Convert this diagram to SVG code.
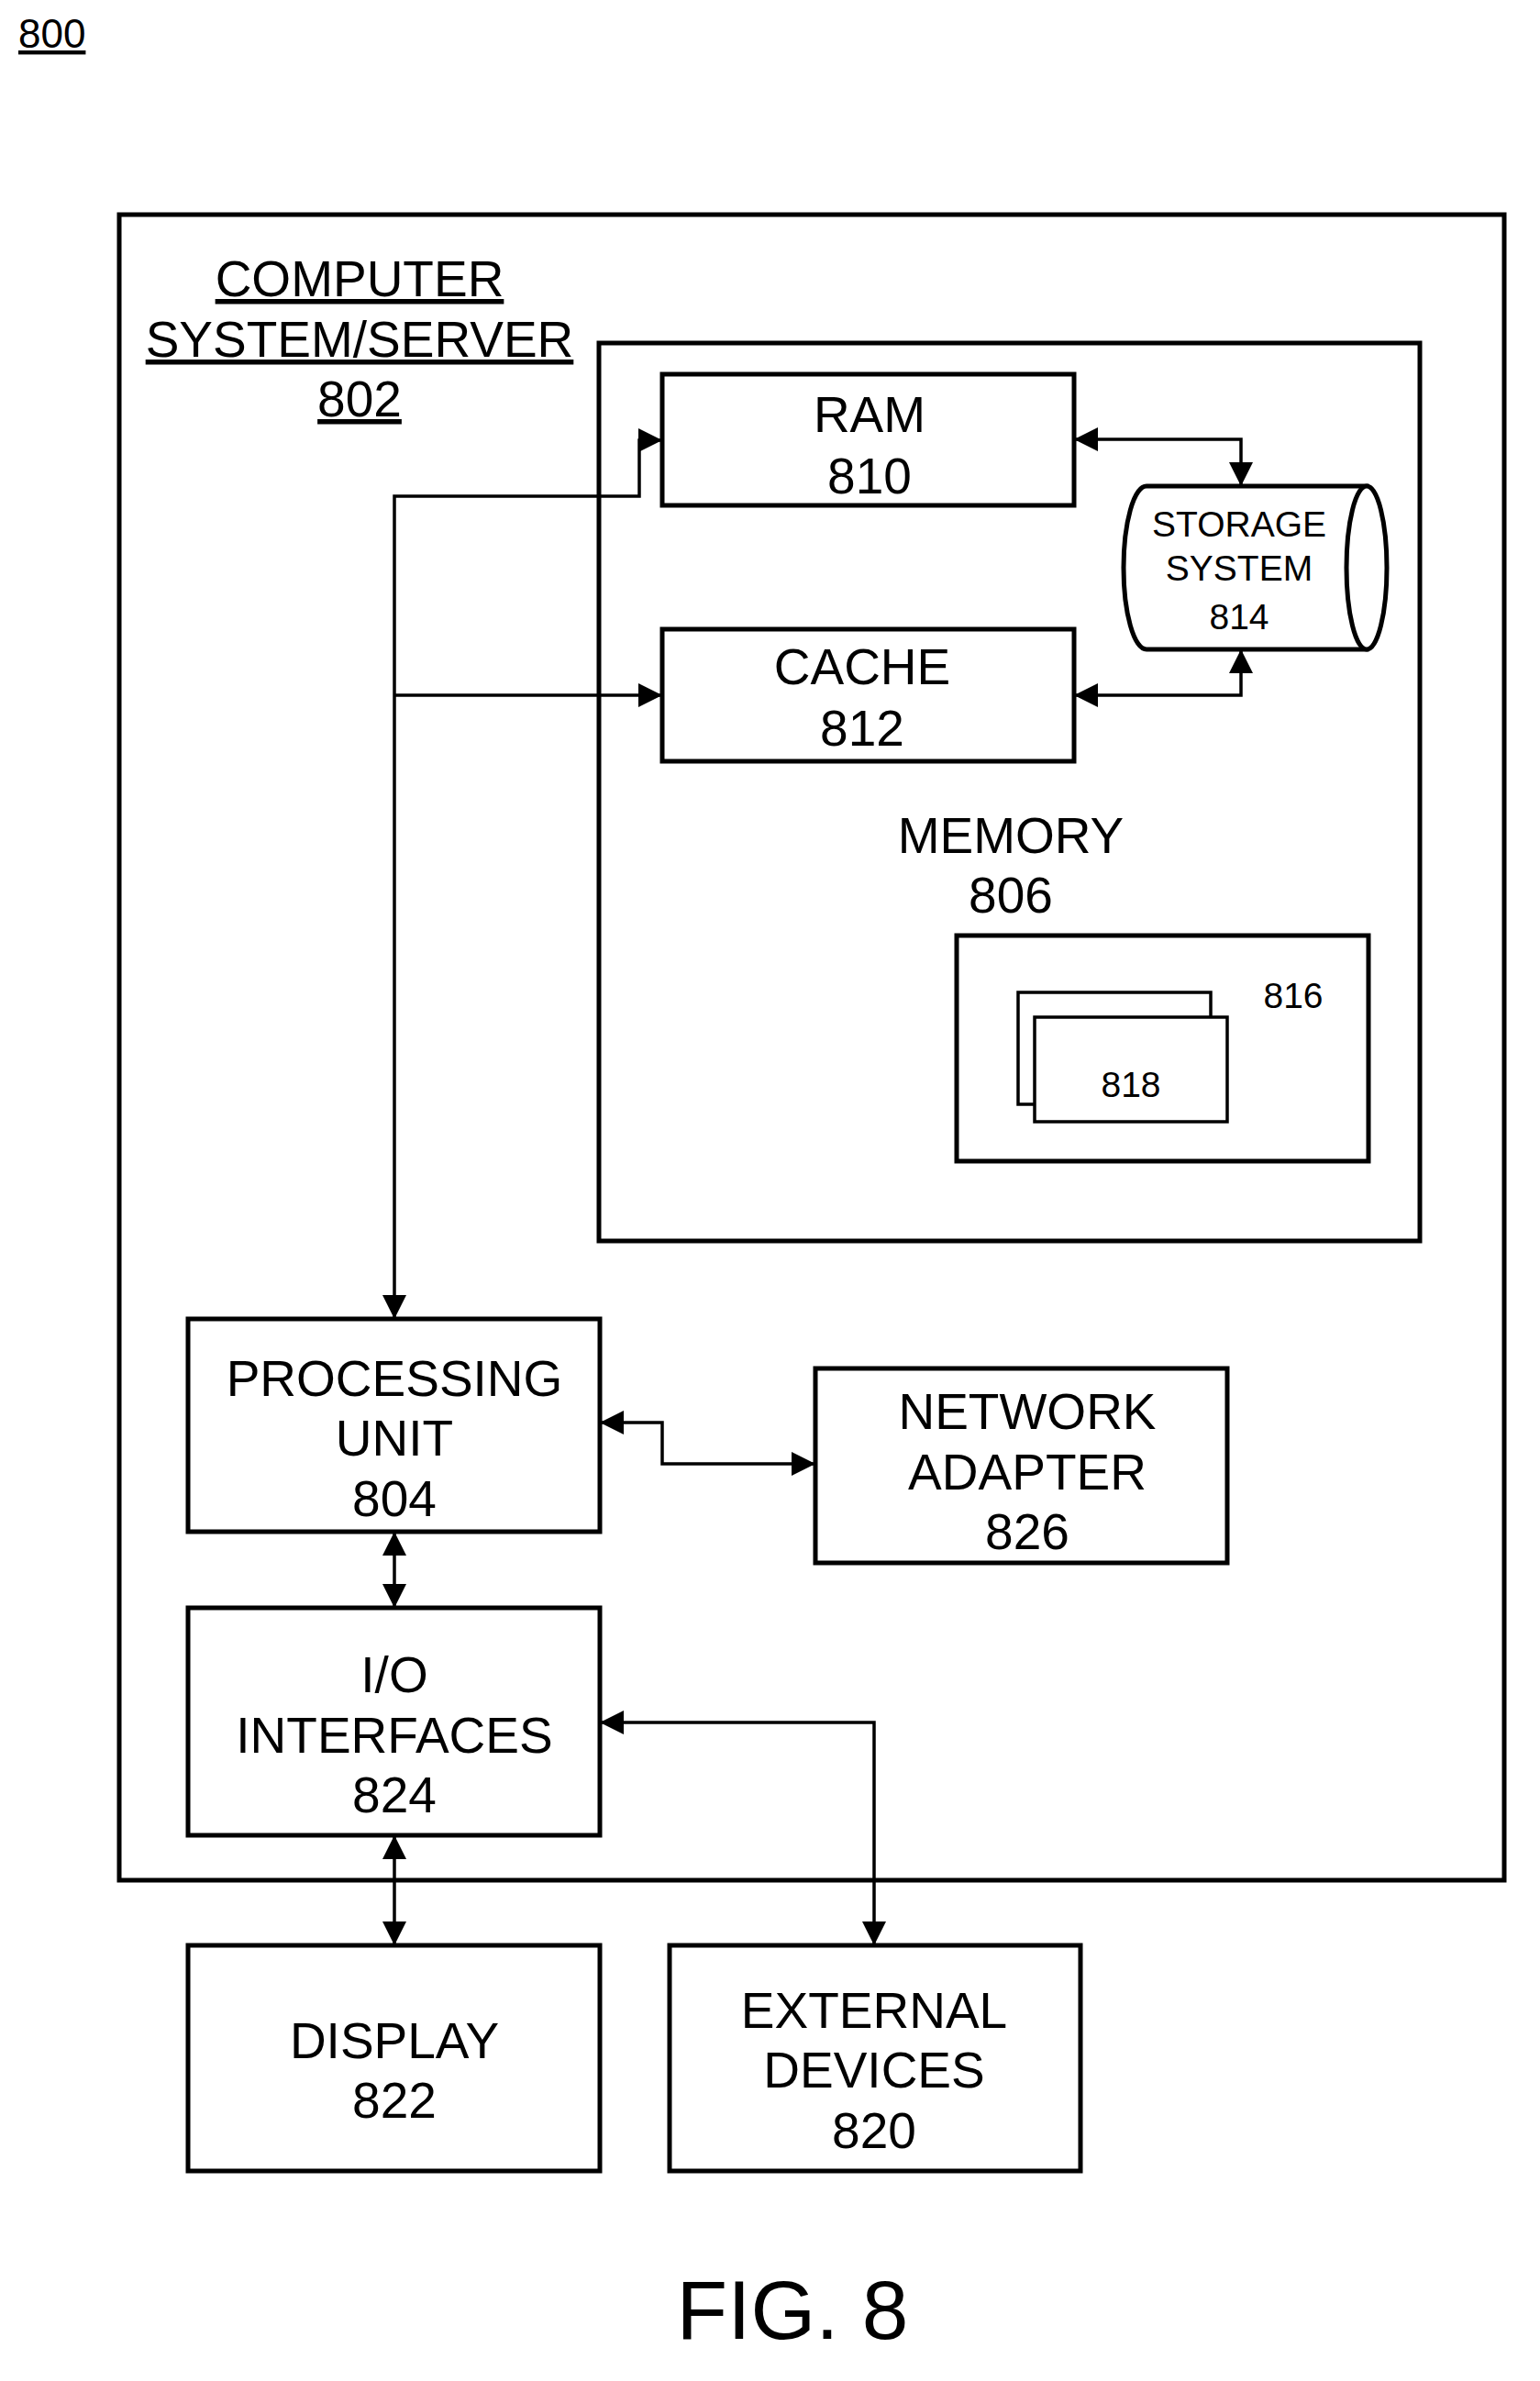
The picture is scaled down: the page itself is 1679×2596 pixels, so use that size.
<svg xmlns="http://www.w3.org/2000/svg" width="1679" height="2596" viewBox="0 0 1679 2596">
<style>
.b{fill:#fff;stroke:#000;stroke-width:5}
.c{fill:none;stroke:#000;stroke-width:3.5}
text{font-family:"Liberation Sans",Arial,sans-serif;fill:#000;text-anchor:middle}
.t{font-size:55px}
.s{font-size:39px}
</style>
<defs>
<marker id="a" markerWidth="8" markerHeight="8" refX="7" refY="4" orient="auto-start-reverse" markerUnits="userSpaceOnUse" viewBox="0 0 8 8"><path d="M0,0 L8,4 L0,8 z"/></marker>
<marker id="m" markerWidth="26" markerHeight="26" refX="24" refY="13" orient="auto-start-reverse" markerUnits="userSpaceOnUse" viewBox="0 0 26 26"><path d="M0,0 L26,13 L0,26 z"/></marker>
</defs>
<rect width="1679" height="2596" fill="#fff"/>
<text x="20" y="52" style="font-size:44px;text-anchor:start;text-decoration:underline">800</text>
<g id="n802"><rect class="b" x="130" y="234" width="1510" height="1816"/>
<text class="t" x="392" y="323" text-decoration="underline">COMPUTER</text>
<text class="t" x="392" y="389" text-decoration="underline">SYSTEM/SERVER</text>
<text class="t" x="392" y="454" text-decoration="underline">802</text></g>
<g id="n806"><rect class="b" x="653" y="374" width="895" height="979"/>
<text class="t" x="1102" y="930">MEMORY</text><text class="t" x="1102" y="995">806</text></g>
<g id="n810"><rect class="b" x="722" y="408" width="449" height="143"/>
<text class="t" x="948" y="471">RAM</text><text class="t" x="948" y="538">810</text></g>
<g id="n812"><rect class="b" x="722" y="686" width="449" height="144"/>
<text class="t" x="940" y="746">CACHE</text><text class="t" x="940" y="813">812</text></g>
<g id="n814"><path class="b" d="M1250,530 L1490,530 L1490,708 L1250,708 A25,89 0 0 1 1250,530 Z"/>
<ellipse class="b" cx="1490" cy="619" rx="22" ry="89"/>
<text class="s" x="1351" y="585">STORAGE</text><text class="s" x="1351" y="633">SYSTEM</text><text class="s" x="1351" y="686">814</text></g>
<g id="n816"><rect class="b" x="1043" y="1020" width="449" height="246"/>
<text class="s" x="1410" y="1099">816</text></g>
<g id="n818"><rect class="b" x="1110" y="1082" width="210" height="122" style="stroke-width:3.5"/>
<rect class="b" x="1128" y="1109" width="210" height="114" style="stroke-width:3.5"/>
<text class="s" x="1233" y="1196">818</text></g>
<g id="n804"><rect class="b" x="205" y="1438" width="449" height="232"/>
<text class="t" x="430" y="1522">PROCESSING</text><text class="t" x="430" y="1587">UNIT</text><text class="t" x="430" y="1653">804</text></g>
<g id="n826"><rect class="b" x="889" y="1492" width="449" height="212"/>
<text class="t" x="1120" y="1558">NETWORK</text><text class="t" x="1120" y="1624">ADAPTER</text><text class="t" x="1120" y="1689">826</text></g>
<g id="n824"><rect class="b" x="205" y="1753" width="449" height="248"/>
<text class="t" x="430" y="1845">I/O</text><text class="t" x="430" y="1911">INTERFACES</text><text class="t" x="430" y="1976">824</text></g>
<g id="n822"><rect class="b" x="205" y="2121" width="449" height="246"/>
<text class="t" x="430" y="2244">DISPLAY</text><text class="t" x="430" y="2309">822</text></g>
<g id="n820"><rect class="b" x="730" y="2121" width="448" height="246"/>
<text class="t" x="953" y="2211">EXTERNAL</text><text class="t" x="953" y="2276">DEVICES</text><text class="t" x="953" y="2342">820</text></g>
<g id="connectors">
<path class="c" d="M430,1436 L430,541 L697,541 L697,480 L720,480" marker-start="url(#m)" marker-end="url(#m)"/>
<path class="c" d="M430,758 L720,758" marker-end="url(#m)"/>
<path class="c" d="M1173,479 L1353,479 L1353,528" marker-start="url(#m)" marker-end="url(#m)"/>
<path class="c" d="M1173,758 L1353,758 L1353,710" marker-start="url(#m)" marker-end="url(#m)"/>
<path class="c" d="M656,1551 L722,1551 L722,1596 L887,1596" marker-start="url(#m)" marker-end="url(#m)"/>
<path class="c" d="M430,1672 L430,1751" marker-start="url(#m)" marker-end="url(#m)"/>
<path class="c" d="M656,1878 L953,1878 L953,2119" marker-start="url(#m)" marker-end="url(#m)"/>
<path class="c" d="M430,2003 L430,2119" marker-start="url(#m)" marker-end="url(#m)"/>
</g>
<text x="864" y="2550" style="font-size:91px">FIG. 8</text>
</svg>
